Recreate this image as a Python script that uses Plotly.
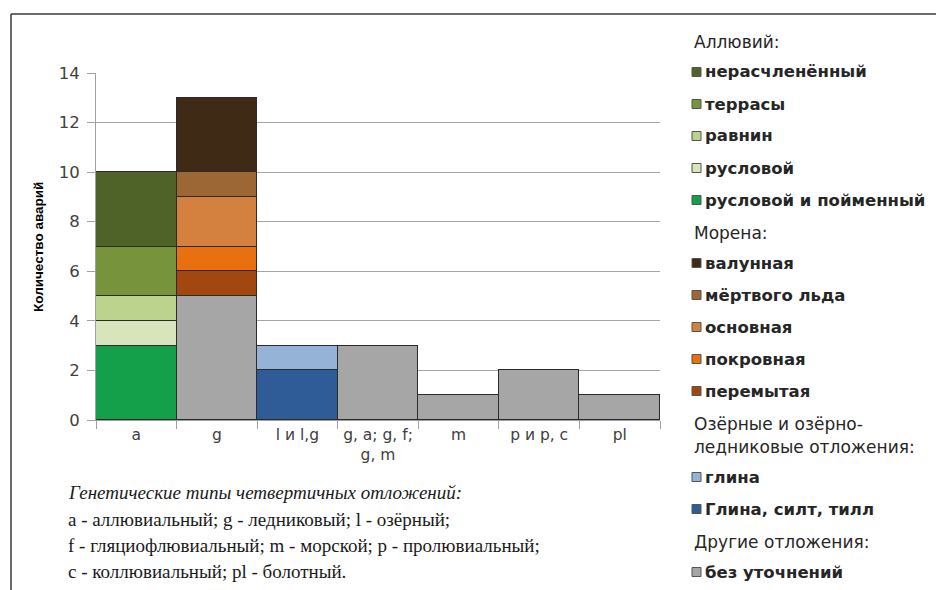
import plotly.graph_objects as go

# ---------------- data ----------------
categories = ["a", "g", "l и l,g", "g, a; g, f;<br>g, m", "m", "p и p, c", "pl"]

# stacked components (bottom -> top); None = absent
bez_utochneniy      = [None, 5, None, 3, 1, 2, 1]
ruslovoy_i_poym     = [3, None, None, None, None, None, None]
ruslovoy            = [1, None, None, None, None, None, None]
ravnin              = [1, None, None, None, None, None, None]
terrasy             = [2, None, None, None, None, None, None]
neraschlenenny      = [3, None, None, None, None, None, None]
peremytaya          = [None, 1, None, None, None, None, None]
pokrovnaya          = [None, 1, None, None, None, None, None]
osnovnaya           = [None, 2, None, None, None, None, None]
mertvogo_lda        = [None, 1, None, None, None, None, None]
valunnaya           = [None, 3, None, None, None, None, None]
glina_silt_till     = [None, None, 2, None, None, None, None]
glina               = [None, None, 1, None, None, None, None]

y_ticks = [0, 2, 4, 6, 8, 10, 12, 14]

colors = {
    "без уточнений": "#a6a6a6",
    "русловой и пойменный": "#14a04a",
    "русловой": "#d8e4bc",
    "равнин": "#bcd38e",
    "террасы": "#77933c",
    "нерасчленённый": "#4f6228",
    "перемытая": "#a2470f",
    "покровная": "#e8700f",
    "основная": "#d4813f",
    "мёртвого льда": "#9c6635",
    "валунная": "#3f2a16",
    "Глина, силт, тилл": "#2f5c97",
    "глина": "#95b3d7",
}

stack = [
    ("без уточнений", bez_utochneniy),
    ("русловой и пойменный", ruslovoy_i_poym),
    ("русловой", ruslovoy),
    ("равнин", ravnin),
    ("террасы", terrasy),
    ("нерасчленённый", neraschlenenny),
    ("перемытая", peremytaya),
    ("покровная", pokrovnaya),
    ("основная", osnovnaya),
    ("мёртвого льда", mertvogo_lda),
    ("валунная", valunnaya),
    ("Глина, силт, тилл", glina_silt_till),
    ("глина", glina),
]

legend_groups = [
    (["Аллювий:"], ["нерасчленённый", "террасы", "равнин", "русловой", "русловой и пойменный"]),
    (["Морена:"], ["валунная", "мёртвого льда", "основная", "покровная", "перемытая"]),
    (["Озёрные и озёрно-", "ледниковые отложения:"], ["глина", "Глина, силт, тилл"]),
    (["Другие отложения:"], ["без уточнений"]),
]

note_lines = [
    "Генетические типы четвертичных отложений:",
    "a - аллювиальный; g - ледниковый; l - озёрный;",
    "f - гляциофлювиальный; m - морской; p - пролювиальный;",
    "c - коллювиальный; pl - болотный.",
]

# ---------------- layout geometry ----------------
OFF = 8                      # page body margin
W, H = 944 - OFF, 590 - OFF
L, T = 96 - OFF, 73 - OFF
PW, PH = 564, 347
R = W - L - PW
B = H - T - PH

def px(x):
    return (x - OFF - L) / PW

def py(y):
    return (T + PH - (y - OFF)) / PH

SANS = "DejaVu Sans"
SERIF = "Liberation Serif"

fig = go.Figure()
for name, vals in stack:
    fig.add_trace(go.Bar(
        x=categories, y=vals, name=name,
        marker=dict(color=colors[name], line=dict(color="#2b2b2b", width=1)),
        showlegend=False,
    ))

shapes = []
annotations = []

# manual legend
cursor = 42
for titles, items in legend_groups:
    for i, t in enumerate(titles):
        annotations.append(dict(
            x=px(692), y=py(cursor), xref="paper", yref="paper",
            text=t, showarrow=False, xanchor="left", yanchor="middle",
            font=dict(family=SANS, size=17, color="#262626"),
        ))
        cursor += 23 if i < len(titles) - 1 else 30
    for j, name in enumerate(items):
        shapes.append(dict(
            type="rect", xref="paper", yref="paper",
            x0=px(692), x1=px(701), y0=py(cursor + 4.5), y1=py(cursor - 4.5),
            fillcolor=colors[name], line=dict(color="#555555", width=1),
        ))
        annotations.append(dict(
            x=px(703), y=py(cursor), xref="paper", yref="paper",
            text=name, showarrow=False, xanchor="left", yanchor="middle",
            font=dict(family=SANS, size=16.5, color="#262626", weight="bold"),
        ))
        cursor += 32 if j < len(items) - 1 else 33

# y-axis title
annotations.append(dict(
    x=px(38), y=py(247), xref="paper", yref="paper",
    text="<b>Количество аварий</b>", textangle=-90, showarrow=False,
    xanchor="center", yanchor="middle",
    font=dict(family="Liberation Sans", size=13.5, color="#000000"),
))

# footnote
for k, line in enumerate(note_lines):
    annotations.append(dict(
        x=px(66), y=py(493 + 26.3 * k), xref="paper", yref="paper",
        text=line, showarrow=False, xanchor="left", yanchor="middle",
        font=dict(family=SERIF, size=19, color="#1a1a1a",
                  style="italic" if k == 0 else "normal"),
    ))

# outer frame (left and top edges)
shapes.append(dict(type="line", xref="paper", yref="paper",
                   x0=px(11), x1=px(960), y0=py(14), y1=py(14),
                   line=dict(color="#3a3a3a", width=1.5)))
shapes.append(dict(type="line", xref="paper", yref="paper",
                   x0=px(11), x1=px(11), y0=py(14), y1=py(600),
                   line=dict(color="#3a3a3a", width=1.5)))

fig.update_layout(
    width=W, height=H,
    margin=dict(l=L, r=R, t=T, b=B),
    paper_bgcolor="white", plot_bgcolor="white",
    barmode="stack", bargap=0,
    shapes=shapes, annotations=annotations,
    font=dict(family=SANS, color="#404040"),
    xaxis=dict(
        type="category", range=[-0.5, 6.5],
        showline=True, linecolor="#a0a0a0", linewidth=1,
        ticks="outside", tickson="boundaries", ticklen=8, tickcolor="#a0a0a0",
        tickfont=dict(family=SANS, size=15.5, color="#404040"),
        showgrid=False,
    ),
    yaxis=dict(
        range=[0, 14], tickvals=y_ticks,
        showline=True, linecolor="#a0a0a0", linewidth=1,
        ticks="outside", ticklen=8, tickcolor="#a0a0a0",
        ticklabelstandoff=4,
        tickfont=dict(family=SANS, size=16.5, color="#404040"),
        showgrid=True, gridcolor="#a6a6a6", gridwidth=1,
        zeroline=False,
    ),
)

fig.write_html("out.html")
